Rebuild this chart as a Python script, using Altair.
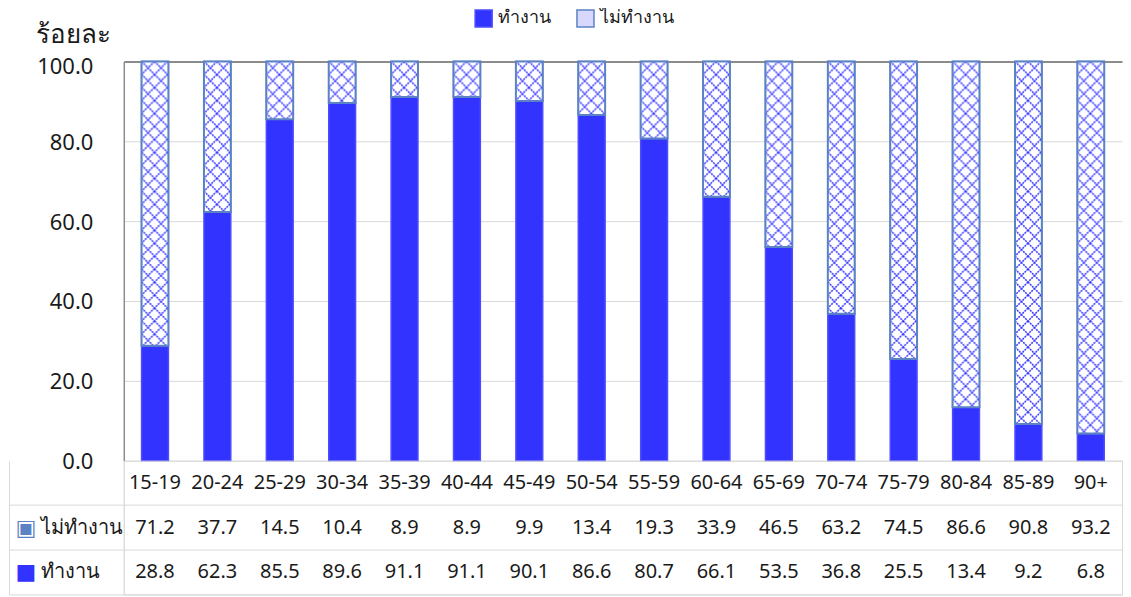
import altair as alt
import pandas as pd
from urllib.parse import quote

ages = ["15-19", "20-24", "25-29", "30-34", "35-39", "40-44", "45-49", "50-54",
        "55-59", "60-64", "65-69", "70-74", "75-79", "80-84", "85-89", "90+"]
working = [28.8, 62.3, 85.5, 89.6, 91.1, 91.1, 90.1, 86.6, 80.7, 66.1, 53.5, 36.8, 25.5, 13.4, 9.2, 6.8]
not_working = [71.2, 37.7, 14.5, 10.4, 8.9, 8.9, 9.9, 13.4, 19.3, 33.9, 46.5, 63.2, 74.5, 86.6, 90.8, 93.2]
status_labels = ["ทำงาน", "ไม่ทำงาน"]
y_ticks = [0, 20, 40, 60, 80, 100]
y_title = "ร้อยละ"
header_key = "h"
row_keys = [header_key, "ไม่ทำงาน", "ทำงาน"]

FONT = "Noto Sans"
BLUE = "#3333ff"
PALE = "#d8d8fc"
OUTLINE = "#5b82c4"
GRID = "#d9d9d9"
DARK = "#8c8c8c"
INK = "#1a1a1a"

# crosshatch texture (style only), tiled at screen scale inside each image box
pattern_svg = (
    "<svg xmlns='http://www.w3.org/2000/svg'>"
    "<defs><pattern id='p' width='13' height='13' patternUnits='userSpaceOnUse'>"
    "<path d='M0 0L13 13M13 0L0 13' stroke='#3333ff' stroke-width='1.5' "
    "stroke-dasharray='2 0.9' fill='none'/></pattern></defs>"
    "<rect width='100%' height='100%' fill='white'/>"
    "<rect width='100%' height='100%' fill='url(#p)'/></svg>"
)
pattern_uri = "data:image/svg+xml;charset=utf-8," + quote(pattern_svg)

bar_rows = []
for i, a in enumerate(ages):
    bar_rows.append({"age": a, "status": status_labels[0], "value": working[i], "ord": 0})
    bar_rows.append({"age": a, "status": status_labels[1], "value": not_working[i], "ord": 1})
bars_df = pd.DataFrame(bar_rows)
seg_df = pd.DataFrame({"age": ages, "work": working, "rest": not_working})

tab_rows = []
for i, a in enumerate(ages):
    tab_rows.append({"age": a, "row": header_key, "label": a})
    tab_rows.append({"age": a, "row": "ไม่ทำงาน", "label": f"{not_working[i]:.1f}"})
    tab_rows.append({"age": a, "row": "ทำงาน", "label": f"{working[i]:.1f}"})
tab_df = pd.DataFrame(tab_rows)

legend = alt.Legend(
    orient="none", legendX=351, legendY=-53, direction="horizontal", title=None,
    symbolType="square", symbolSize=290, symbolStrokeWidth=1.5, labelFontSize=18,
    labelFont=FONT, labelOffset=5, columnPadding=22, labelColor=INK,
)

x_bar = alt.X("age:N", sort=ages, axis=None,
              scale=alt.Scale(paddingInner=0.57, paddingOuter=0.285))
y_scale_bar = alt.Scale(domain=[0, 100], nice=False)
y_axis = alt.Axis(
    values=y_ticks, format=".1f", labelFontSize=22, labelPadding=31,
    labelFlush=False, labelColor=INK, ticks=False,
    labelOffset={"condition": {"test": "datum.value === 100", "value": 5}, "value": 1},
    domainColor=DARK, domainWidth=1.5,
    grid=True,
    gridColor={"condition": {"test": "datum.value === 100", "value": DARK}, "value": GRID},
    gridWidth={"condition": {"test": "datum.value === 100", "value": 2}, "value": 1},
    title=y_title, titleAngle=0, titleAlign="left", titleBaseline="alphabetic",
    titleX=-88, titleY=-19, titleFontSize=26, titleFontWeight="normal",
    titleColor=INK,
)

bars = alt.Chart(bars_df).mark_bar(strokeWidth=1.5).encode(
    x=x_bar,
    y=alt.Y("value:Q", stack="zero", scale=y_scale_bar, axis=y_axis, title=y_title),
    fill=alt.Fill("status:N", scale=alt.Scale(domain=status_labels, range=[BLUE, PALE]), legend=legend),
    stroke=alt.Stroke("status:N", scale=alt.Scale(domain=status_labels, range=["#4d4dff", OUTLINE]), legend=legend),
    order=alt.Order("ord:Q"),
)

texture = alt.Chart(seg_df).transform_calculate(
    total="datum.work + datum.rest"
).mark_image(aspect=False).encode(
    x=x_bar,
    y=alt.Y("work:Q", scale=y_scale_bar, axis=y_axis, title=y_title),
    y2="total:Q",
    url=alt.value(pattern_uri),
)

outline = alt.Chart(seg_df).transform_calculate(
    total="datum.work + datum.rest"
).mark_bar(fill=None, stroke=OUTLINE, strokeWidth=2, fillOpacity=0).encode(
    x=x_bar,
    y=alt.Y("work:Q", scale=y_scale_bar, axis=y_axis, title=y_title),
    y2="total:Q",
)

top = alt.layer(bars, texture, outline).properties(
    width=1000, height=400, view=alt.ViewBackground(stroke=None)
)

x_tab = alt.X("age:N", sort=ages,
              scale=alt.Scale(type="band", paddingInner=0, paddingOuter=0),
              axis=alt.Axis(orient="top", grid=True, gridColor=GRID, bandPosition=0,
                            labels=False, ticks=False, domain=False, title=None))
y_scale = alt.Scale(type="band", domain=row_keys, paddingInner=0, paddingOuter=0)

axis_rows = alt.Axis(
    orient="left", bandPosition=1, ticks=True, tickSize=115, tickColor=GRID,
    grid=True, gridColor=GRID, domain=True, domainColor=GRID,
    labelExpr=f"datum.value == '{header_key}' ? '' : datum.value",
    labelAlign="left", labelPadding=-32, labelFontSize=20,
    labelColor=INK, labelFont=FONT, title=None,
)
axis_keys = alt.Axis(
    orient="left", offset=115, ticks=False, grid=False, domain=True, domainColor=GRID,
    labelExpr=("datum.value == 'ทำงาน' ? '■' : datum.value == 'ไม่ทำงาน' ? '▣' : ''"),
    labelColor={"condition": {"test": "datum.value === 'ทำงาน'", "value": BLUE}, "value": OUTLINE},
    labelAlign="left", labelPadding=-6, labelFontSize=22, labelFont="DejaVu Sans", title=None,
)

tab_text = alt.Chart(tab_df).mark_text(fontSize=20, font=FONT, color=INK).encode(
    x=x_tab,
    y=alt.Y("row:N", sort=row_keys, scale=y_scale, axis=axis_rows),
    text="label:N",
)
tab_keys = alt.Chart(tab_df).mark_point(opacity=0).encode(
    x=alt.X("age:N", sort=ages, axis=None),
    y=alt.Y("row:N", sort=row_keys, scale=y_scale, axis=axis_keys),
)
table = alt.layer(tab_text, tab_keys).resolve_axis(y="independent").properties(
    width=1000, height=134, view=alt.ViewBackground(stroke=GRID)
)

chart = alt.vconcat(top, table, spacing=0, bounds="flush").properties(padding=0).configure(
    font=FONT
)

chart.save("out.html", embed_options={"renderer": "svg", "actions": False})
